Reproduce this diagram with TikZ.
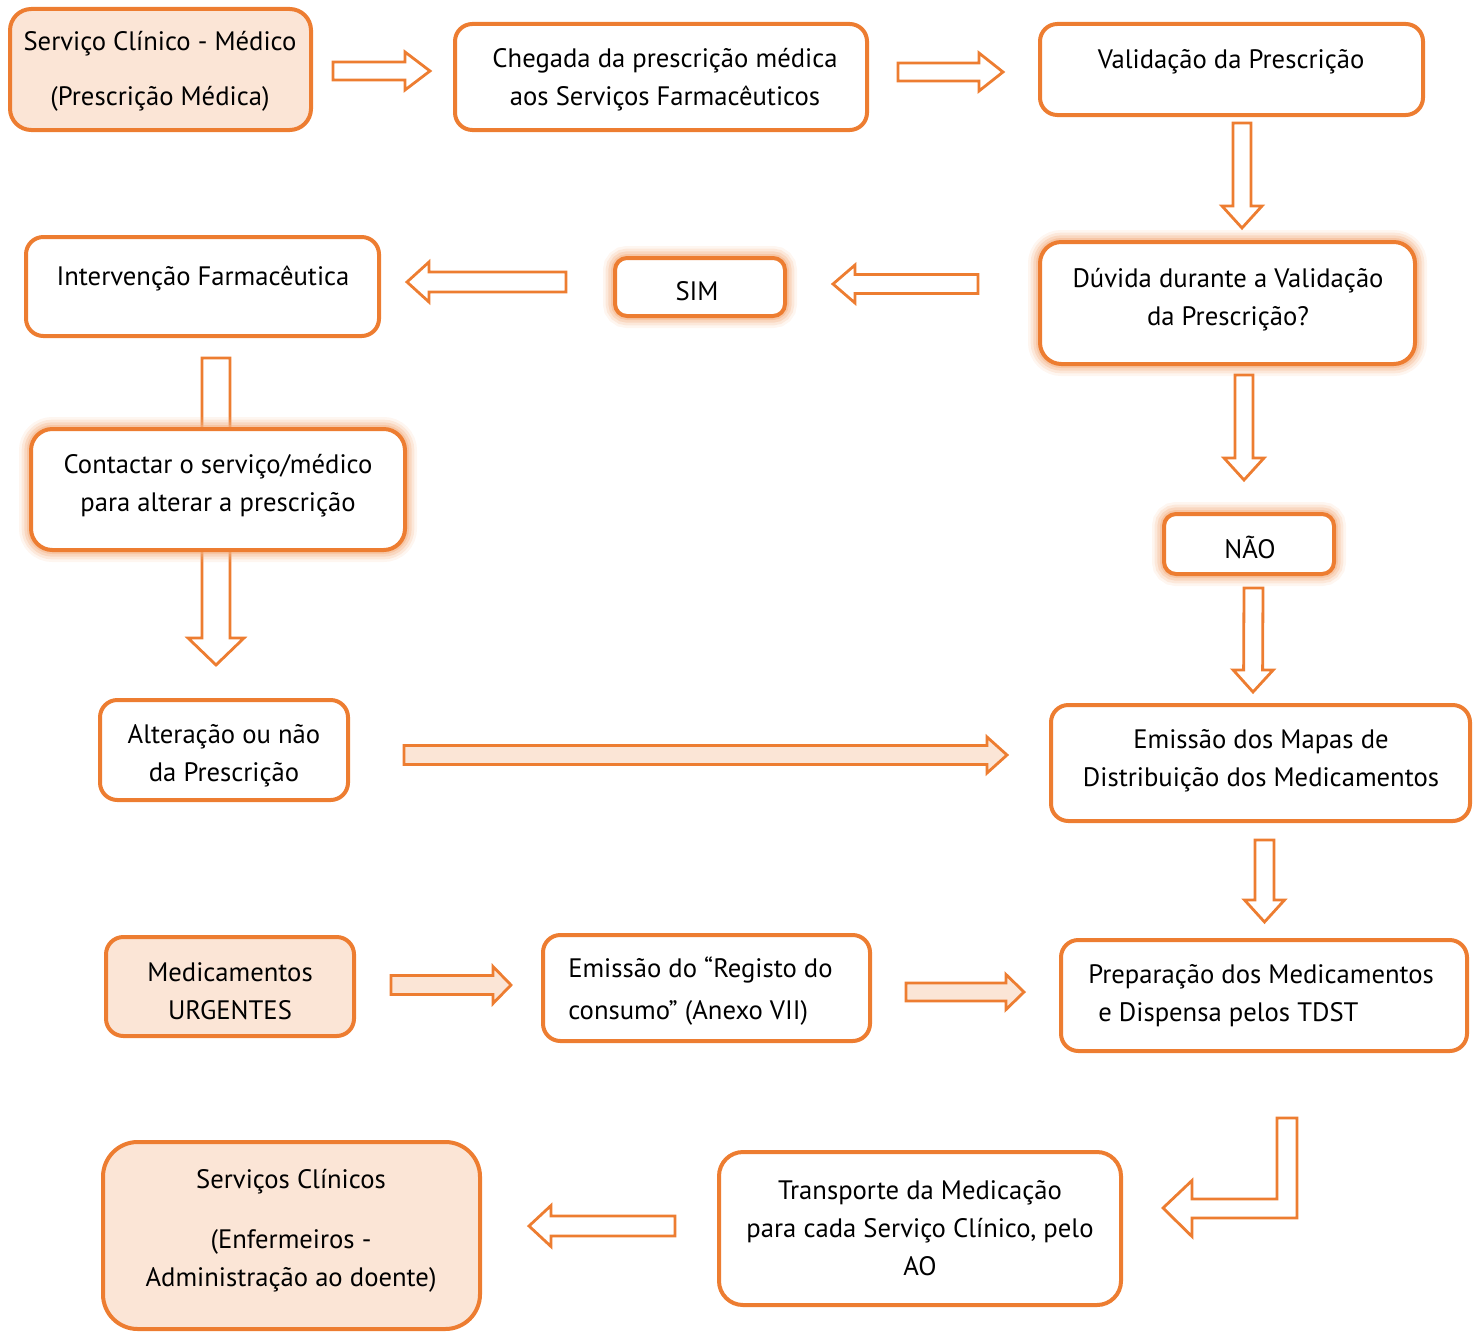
\documentclass[tikz,border=0pt]{standalone}
\usepackage{fontspec}
\setmainfont{PT Sans}
\usetikzlibrary{calc}
\definecolor{orn}{HTML}{ED7D31}
\definecolor{peach}{HTML}{FBE5D6}
\definecolor{glw}{HTML}{F4B183}
\newcommand\blockarr[6]{%
  \coordinate (ba-s) at #1;
  \coordinate (ba-e) at #2;
  \pgfmathsetlengthmacro\bahl{#5*0.75pt}%
  \pgfmathsetlengthmacro\bahs{#3*0.75pt}%
  \pgfmathsetlengthmacro\bahw{#4*0.75pt}%
  \coordinate (ba-h) at ($(ba-e)!\bahl!(ba-s)$);
  \draw[#6] ($(ba-s)!\bahs!90:(ba-e)$) -- ($(ba-h)!\bahs!90:(ba-e)$) -- ($(ba-h)!\bahw!90:(ba-e)$) -- (ba-e)
    -- ($(ba-h)!\bahw!-90:(ba-e)$) -- ($(ba-h)!\bahs!-90:(ba-e)$) -- ($(ba-s)!\bahs!-90:(ba-e)$) -- cycle;
}
\tikzset{
  bx/.style 2 args={minimum width=#1*0.75pt, minimum height=#2*0.75pt},
  box/.style={draw=orn, line width=3pt, rounded corners=13pt, fill=white, inner sep=0pt},
  pbox/.style={box, fill=peach},
  gbox/.style={box,
    preaction={draw=glw, line width=18pt, draw opacity=0.12},
    preaction={draw=glw, line width=14pt, draw opacity=0.2},
    preaction={draw=glw, line width=10pt, draw opacity=0.3},
    preaction={draw=glw, line width=6pt, draw opacity=0.45}},
  txt/.style={align=center, font=\fontsize{20}{28.5}\selectfont, inner sep=0pt},
  harr/.style={draw=orn, line width=2.1pt, fill=white, line join=miter},
  parr/.style={draw=orn, line width=2.1pt, fill=peach, line join=miter},
}
\begin{document}
\begin{tikzpicture}[x=0.75pt, y=-0.75pt]
\useasboundingbox (0,0) rectangle (1484,1331);
% arrow behind Contactar
\node[box, bx={353}{99}] (b6) at (202.5,286.5) {};
\blockarr{($(b6.south)+(13.5,20)$)}{(216,665)}{14}{28}{27}{harr}
% boxes
\node[pbox, bx={301}{121}, rounded corners=16pt] (b1) at (160.5,69.5) {};
\node[box, bx={412}{106}] (b2) at (661,77) {};
\node[box, bx={383}{91}] (b3) at (1231.5,69.5) {};
\node[gbox, bx={375}{122}, rounded corners=16pt] (b4) at (1227.5,303) {};
\node[gbox, bx={170}{58}, rounded corners=9pt] (b5) at (700,287) {};
\node[gbox, bx={374}{121}, rounded corners=16pt] (b7) at (218,489.5) {};
\node[gbox, bx={170}{60}, rounded corners=9pt] (b8) at (1249,544) {};
\node[box, bx={248}{100}] (b9) at (224,750) {};
\node[box, bx={419}{116}] (b10) at (1260.5,763) {};
\node[pbox, bx={248}{99}] (b11) at (230,986.5) {};
\node[box, bx={327}{106}] (b12) at (706.5,988) {};
\node[box, bx={406}{111}] (b13) at (1264,995.5) {};
\node[box, bx={402}{153}, rounded corners=18pt] (b14) at (920,1228.5) {};
\node[pbox, bx={377}{187}, rounded corners=26pt] (b15) at (291.5,1235.5) {};
% texts
\node[txt] at (160,71) {Serviço Clínico - Médico\\[12.5pt](Prescrição Médica)};
\node[txt] at (665,80) {Chegada da prescrição médica\\aos Serviços Farmacêuticos};
\node[txt] at (1231,62) {Validação da Prescrição};
\node[txt] at (1228,300) {Dúvida durante a Validação\\da Prescrição?};
\node[txt] at (697,291) {SIM};
\node[txt] at (203,279) {Intervenção Farmacêutica};
\node[txt] at (218,486) {Contactar o serviço/médico\\para alterar a prescrição};
\node[txt] at (1250,547) {NÃO};
\node[txt] at (224,756) {Alteração ou não\\da Prescrição};
\node[txt] at (1261,761) {Emissão dos Mapas de\\Distribuição dos Medicamentos};
\node[txt] at (230,991) {Medicamentos\\URGENTES};
\node[txt, align=left, anchor=west] at (568,991) {Emissão do “Registo do\\[3pt]consumo” (Anexo VII)};
\node[txt, align=left, anchor=west] at (1088,996) {Preparação dos Medicamentos\\\hspace*{7.5pt}e Dispensa pelos TDST};
\node[txt] at (920,1228) {Transporte da Medicação\\para cada Serviço Clínico, pelo\\AO};
\node[txt] at (291,1231) {Serviços Clínicos\\[16.5pt](Enfermeiros -\\Administração ao doente)};
% arrows
\blockarr{($(b1.east)+(20,1.5)$)}{($(b2.west)+(-23,-6)$)}{9}{19}{25}{harr}
\blockarr{($(b2.east)+(29,-5)$)}{($(b3.west)+(-35,2.5)$)}{9}{19}{24}{harr}
\blockarr{($(b3.south)+(10.5,6)$)}{($(b4.north)+(14.5,-12)$)}{9}{20}{22}{harr}
\blockarr{($(b4.west)+(-60,-19)$)}{($(b5.east)+(46,-3)$)}{9.5}{19}{22}{harr}
\blockarr{($(b5.west)+(-47,-5)$)}{($(b6.east)+(26,-4.5)$)}{10}{20}{22}{harr}
\blockarr{($(b4.south)+(16.5,9)$)}{($(b8.north)+(-5,-32)$)}{9}{20}{22}{harr}
\blockarr{($(b8.south)+(4.5,12)$)}{($(b10.north)+(-7.5,-11)$)}{9.5}{20}{22}{harr}
\blockarr{($(b9.east)+(54,5)$)}{($(b10.west)+(-42,-8)$)}{9.5}{18}{20}{parr}
\blockarr{($(b10.south)+(4,17)$)}{($(b13.north)+(0.5,-16)$)}{9.5}{20}{22}{harr}
\blockarr{($(b11.east)+(35,-1.5)$)}{($(b12.west)+(-30,-3)$)}{9.5}{18.5}{18}{parr}
\blockarr{($(b12.east)+(34,4)$)}{($(b13.west)+(-35,-3.5)$)}{9}{17.5}{18}{parr}
\blockarr{($(b14.west)+(-42,-2.5)$)}{($(b15.east)+(47,-9.5)$)}{10}{20.5}{22}{harr}
% bent arrow
\coordinate (c1) at ($(b13.south)+(13,65)$);
\coordinate (c2) at ($(b14.east)+(40,-20.5)$);
\draw[harr] (c1) -- ++(20,0) -- ++(0,100) -- ($(c2)+(29,10)$) -- ($(c2)+(29,28.5)$) -- (c2)
  -- ($(c2)+(29,-27.5)$) -- ($(c2)+(29,-9)$) -- ($(c1)+(0,81)$) -- cycle;
\end{tikzpicture}
\end{document}
